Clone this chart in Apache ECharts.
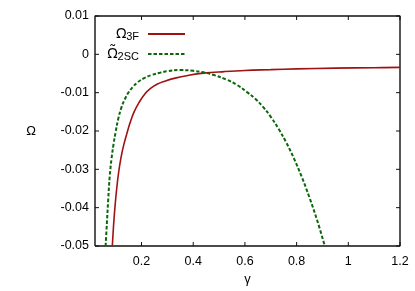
<!DOCTYPE html>
<html><head><meta charset="utf-8">
<script src="https://cdn.jsdelivr.net/npm/echarts@6/dist/echarts.min.js"></script>
<style>html,body{margin:0;padding:0;background:#fff}#c{width:415px;height:291px}</style>
</head><body><div id="c"></div>
<script>
// Omega_3F curve
const gamma3F = [0.087, 0.092, 0.097, 0.104, 0.112, 0.121, 0.131, 0.142, 0.155, 0.170, 0.190, 0.212, 0.235, 0.260, 0.290, 0.330, 0.380, 0.440, 0.520, 0.600, 0.700, 0.800, 0.950, 1.100, 1.200];
const omega3F = [-0.0500, -0.0445, -0.0400, -0.0350, -0.0305, -0.0268, -0.0237, -0.0210, -0.0180, -0.0152, -0.0126, -0.0104, -0.0089, -0.0078, -0.0070, -0.0062, -0.0055, -0.0049, -0.0045, -0.0042, -0.0040, -0.0038, -0.0036, -0.0035, -0.0034];
// tilde Omega_2SC curve
const gamma2SC = [0.061, 0.066, 0.071, 0.077, 0.084, 0.092, 0.100, 0.110, 0.122, 0.136, 0.150, 0.165, 0.185, 0.210, 0.239, 0.271, 0.300, 0.349, 0.400, 0.439, 0.480, 0.529, 0.570, 0.607, 0.640, 0.670, 0.700, 0.730, 0.760, 0.790, 0.820, 0.850, 0.880, 0.909];
const omega2SC = [-0.0500, -0.0440, -0.0380, -0.0318, -0.0272, -0.0233, -0.0202, -0.0168, -0.0139, -0.0116, -0.0099, -0.0086, -0.0073, -0.0062, -0.0054, -0.0048, -0.0044, -0.0041, -0.0043, -0.0047, -0.0054, -0.0066, -0.0080, -0.0098, -0.0116, -0.0137, -0.0163, -0.0194, -0.0230, -0.0272, -0.0320, -0.0374, -0.0434, -0.0500];
const xTicks = [0.2, 0.4, 0.6, 0.8, 1.0, 1.2];
const xTickLabels = ['0.2', '0.4', '0.6', '0.8', '1', '1.2'];
const yTickLabels = ['-0.05', '-0.04', '-0.03', '-0.02', '-0.01', '0', '0.01'];
const xRange = [0.02, 1.2];
const yRange = [-0.05, 0.01];

const FONT = '"Liberation Sans", Arial, sans-serif';
const GRID = {left: 95, right: 15, top: 16, bottom: 45};
const W = 415, H = 291, TICK_PX = 4;
const chart = echarts.init(document.getElementById('c'), null, {renderer: 'canvas'});
const zip = (a, b) => a.map((v, i) => [v, b[i]]);
const yTickVals = yTickLabels.map(Number);
const xLabelFmt = v => { const i = xTicks.findIndex(t => Math.abs(t - v) < 1e-6); return i >= 0 ? xTickLabels[i] : ''; };
const yLabelFmt = v => yTickLabels[Math.round((v - yRange[0]) / 0.01)] || '';

// frame outline (from axis ranges) and mirrored inside ticks, expressed in data units
const dxTick = (xRange[1] - xRange[0]) * TICK_PX / (W - GRID.left - GRID.right);
const dyTick = (yRange[1] - yRange[0]) * TICK_PX / (H - GRID.top - GRID.bottom);
const frameData = [[xRange[0], yRange[0]], [xRange[1], yRange[0]], [xRange[1], yRange[1]], [xRange[0], yRange[1]], [xRange[0], yRange[0]]];
const tickData = [];
xTicks.forEach(v => {
  tickData.push([v, yRange[0]], [v, yRange[0] + dyTick], [v, '-']);
  tickData.push([v, yRange[1]], [v, yRange[1] - dyTick], [v, '-']);
});
yTickVals.forEach(v => {
  tickData.push([xRange[0], v], [xRange[0] + dxTick, v], ['-', v]);
  tickData.push([xRange[1], v], [xRange[1] - dxTick, v], ['-', v]);
});

const legendRich = () => ({
  o: {fontSize: 14, lineHeight: 14, verticalAlign: 'top', color: '#000', fontFamily: '"Noto Sans", "DejaVu Sans", sans-serif'},
  s: {fontSize: 11, lineHeight: 14, padding: [5, 4, 0, 0], color: '#000', fontFamily: FONT}
});
const legendCommon = () => ({orient: 'vertical', align: 'right', right: 229, padding: 0, itemWidth: 37, itemHeight: 14,
  itemStyle: {color: 'rgba(0,0,0,0)', borderWidth: 0, opacity: 0}, textStyle: {rich: legendRich()}});

chart.setOption({
  animation: false,
  backgroundColor: '#fff',
  grid: Object.assign({containLabel: false}, GRID),
  legend: [
    Object.assign({data: ['3F'], top: 26, formatter: () => '{o|Ω}{s|3F}'}, legendCommon()),
    Object.assign({data: ['2SC'], top: 46, formatter: () => '{o|Ω\u0303}{s|2SC}'}, legendCommon())
  ],
  xAxis: {type: 'value', min: xRange[0], max: xRange[1], position: 'bottom',
    name: 'γ', nameLocation: 'middle', nameGap: 24, nameTextStyle: {fontSize: 13, color: '#000', fontFamily: FONT},
    axisLine: {show: false}, axisTick: {show: false}, splitLine: {show: false},
    axisLabel: {customValues: xTicks, formatter: xLabelFmt, fontSize: 12.5, color: '#000', fontFamily: FONT, margin: 9}},
  yAxis: {type: 'value', min: yRange[0], max: yRange[1], interval: 0.01, position: 'left',
    name: 'Ω', nameLocation: 'middle', nameGap: 59, nameRotate: 0, nameTextStyle: {fontSize: 13, color: '#000', fontFamily: FONT},
    axisLine: {show: false}, axisTick: {show: false}, splitLine: {show: false},
    axisLabel: {formatter: yLabelFmt, fontSize: 12.5, color: '#000', fontFamily: FONT, margin: 6}},
  series: [
    {name: 'frame', type: 'line', data: frameData, symbol: 'none', clip: false, silent: true, z: 3,
     lineStyle: {color: '#111', width: 1.4}, itemStyle: {color: '#111'}},
    {name: 'ticks', type: 'line', data: tickData, symbol: 'none', clip: false, silent: true, z: 3, connectNulls: false,
     lineStyle: {color: '#111', width: 1}, itemStyle: {color: '#111'}},
    {name: '3F', type: 'line', data: zip(gamma3F, omega3F), symbol: 'none', smooth: 0.4,
     lineStyle: {color: '#9e1212', width: 1.6}, itemStyle: {color: '#9e1212'}, clip: true},
    {name: '2SC', type: 'line', data: zip(gamma2SC, omega2SC), symbol: 'none', smooth: 0.4,
     lineStyle: {color: '#0b660b', width: 2, type: [3.5, 2]}, itemStyle: {color: '#0b660b'}, clip: true}
  ]
});
</script></body></html>
